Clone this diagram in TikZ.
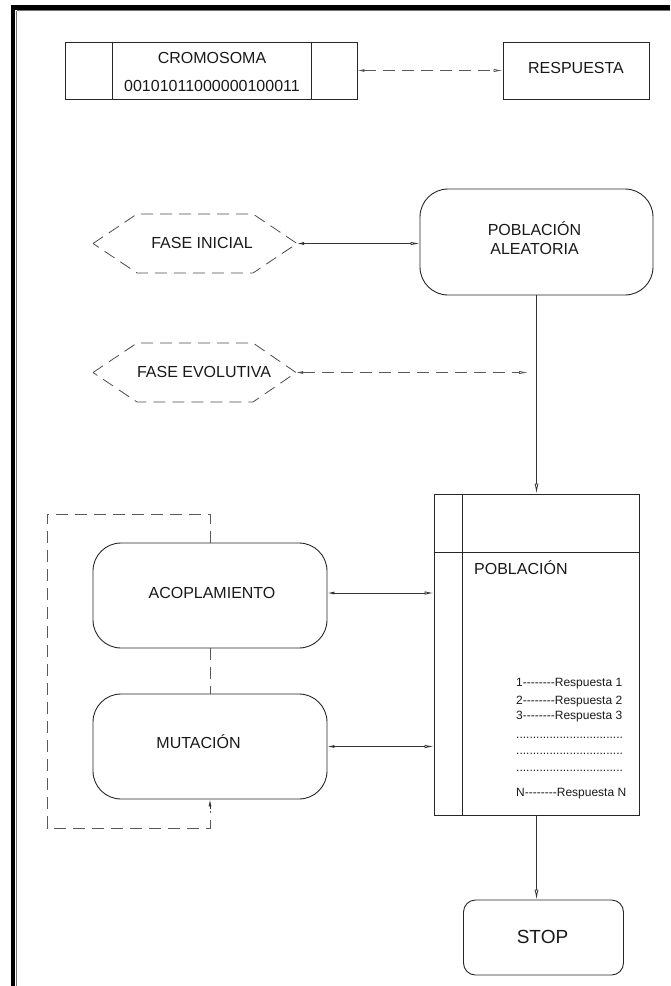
\documentclass[tikz,border=0pt]{standalone}
\usepackage{fontspec}
\setmainfont{Liberation Sans}
\newfontfamily\listfont{Liberation Sans}[Ligatures=TeXOff]
\usetikzlibrary{arrows.meta}
\begin{document}
\begin{tikzpicture}[x=1pt,y=-1pt,
  box/.style={draw=black!85,line width=0.9pt,inner sep=0pt},
  rbox/.style={box,rounded corners=28pt},
  txt/.style={font=\fontsize{16}{19}\selectfont,text=black!90,inner sep=0pt,anchor=base},
  small/.style={font=\listfont\fontsize{12}{14}\selectfont,text=black!90,inner sep=0pt,anchor=base west},
  conn/.style={draw=black!80,line width=0.8pt},
  dconn/.style={draw=black!65,line width=0.8pt,dash pattern=on 12pt off 7pt},
  hex/.style={draw=black!70,line width=0.8pt,dash pattern=on 12pt off 7pt},
  twoway/.style={arrows={Latex[length=7pt,width=3pt]-Latex[open,length=9pt,width=3.5pt]}},
  oneway/.style={arrows={-Latex[open,length=10pt,width=4pt]}},
  upway/.style={arrows={-Latex[length=7pt,width=3pt]}}
]
\useasboundingbox (0,0) rectangle (670,986);
% frame
\fill[black] (11,5) rectangle (670,9.5);
\fill[black] (11,5) rectangle (15,986);
\draw[black!55,line width=1pt] (16.5,10.5) -- (670,10.5);
\draw[black!55,line width=1pt] (16.5,10.5) -- (16.5,986);

% chromosome
\node[box,minimum width=292pt,minimum height=57pt] (chrom) at (211,70.5) {};
\draw[box] ([xshift=48pt]chrom.north west) -- ([xshift=48pt]chrom.south west);
\draw[box] ([xshift=-46pt]chrom.north east) -- ([xshift=-46pt]chrom.south east);
\node[txt] (cromt) at (212,63) {CROMOSOMA};
\node[txt] (bits) at (212,91) {00101011000000100011};

% respuesta
\node[box,minimum width=146pt,minimum height=57pt] (resp) at (576,70.5) {};
\node[txt] (respt) at (576,73.3) {RESPUESTA};
\draw[dconn,twoway] (chrom.east) -- (resp.west);

% hexagons
\coordinate (h1L) at (93,243.5);
\coordinate (h1R) at (297,243.5);
\draw[hex] (h1L) -- (137,214) -- (253,214) -- (h1R) -- (253,273) -- (137,273) -- cycle;
\node[txt] (h1t) at (202,248) {FASE INICIAL};
\coordinate (h2L) at (93,372.5);
\coordinate (h2R) at (296,372.5);
\draw[hex] (h2L) -- (137,343) -- (253,343) -- (h2R) -- (253,402) -- (137,402) -- cycle;
\node[txt] (h2t) at (204,377) {FASE EVOLUTIVA};

% poblacion aleatoria
\node[rbox,minimum width=233pt,minimum height=106pt] (pa) at (536.5,242) {};
\node[txt] (pat1) at (534.5,235) {POBLACIÓN};
\node[txt] (pat2) at (534.5,254) {ALEATORIA};
\draw[conn,twoway] (h1R) -- (h1R -| pa.west);

% poblacion
\node[box,minimum width=205pt,minimum height=321pt] (pop) at (536.5,654.5) {};
\draw[box] ([xshift=29pt]pop.north west) -- ([xshift=29pt]pop.south west);
\draw[box] ([yshift=-59pt]pop.north west) -- ([yshift=-59pt]pop.north east);
\node[txt,anchor=base west] (popt) at (474,574) {POBLACIÓN};
\node[small] (r1) at (516,686.5) {1--------Respuesta 1};
\node[small] (r2) at (516,704) {2--------Respuesta 2};
\node[small] (r3) at (516,719) {3--------Respuesta 3};
\node[small] (d1) at (516,738.5) {................................};
\node[small] (d2) at (516,754.5) {................................};
\node[small] (d3) at (516,771) {................................};
\node[small] (rn) at (516,796) {N--------Respuesta N};

\draw[conn,oneway] (pa.south) -- (pop.north);
\coordinate (evoEnd) at (528,372.5);
\draw[dconn,twoway] (h2R) -- (evoEnd);

% acoplamiento / mutacion
\node[rbox,minimum width=234pt,minimum height=105pt] (acop) at (210,595.5) {};
\node[txt] (acopt) at (212,598) {ACOPLAMIENTO};
\node[rbox,minimum width=234pt,minimum height=105pt] (mut) at (210,746.5) {};
\node[txt] (mutt) at (198.5,748) {MUTACIÓN};
\draw[conn,twoway] ([yshift=2.5pt]acop.east) -- ([yshift=2.5pt]acop.east -| pop.west);
\draw[conn,twoway] (mut.east) -- (mut.east -| pop.west);

% dashed loop
\coordinate (loopTL) at (47,514);
\coordinate (loopBL) at (47,828);
\draw[dconn] (acop.north) -- (acop.north |- loopTL) -- (loopTL) -- (loopBL) -- (loopBL -| mut.south) -- ([yshift=-12pt]mut.south);
\draw[conn,upway] ([yshift=-10pt]mut.south) -- (mut.south);
\draw[dconn] (acop.south) -- (mut.north);

% stop
\node[box,rounded corners=12pt,minimum width=160pt,minimum height=75pt] (stop) at (543.5,937.5) {};
\node[font=\fontsize{19}{22}\selectfont,text=black!90,inner sep=0pt] (stopt) at (542.5,937) {STOP};
\draw[conn,oneway] (pop.south) -- (pop.south |- stop.north);
\end{tikzpicture}
\end{document}
